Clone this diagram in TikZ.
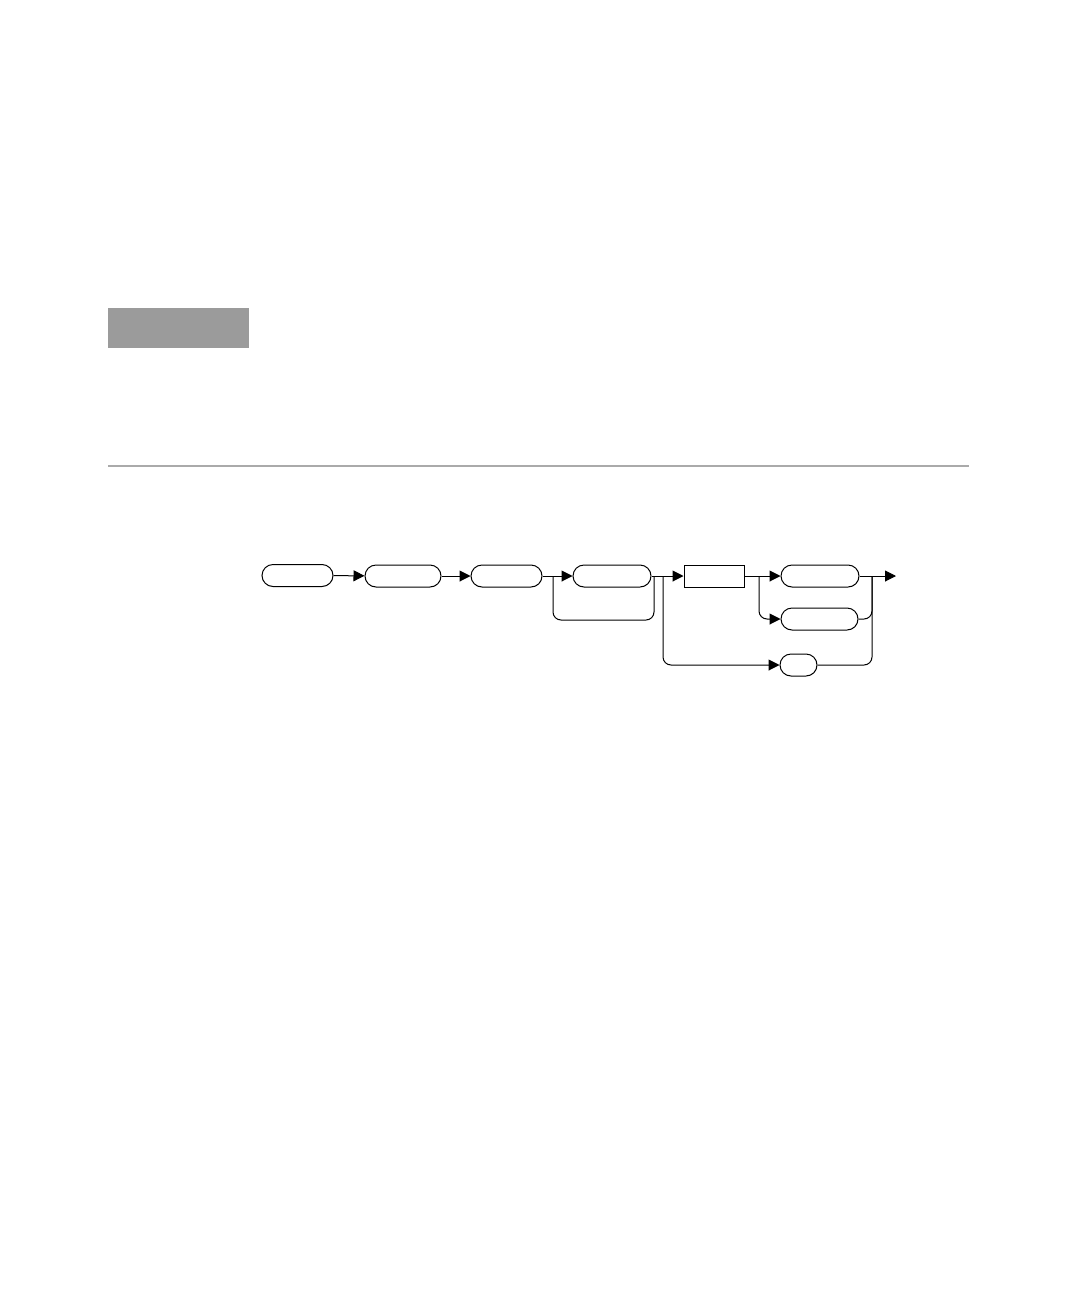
\documentclass[tikz,border=0pt]{standalone}
\usetikzlibrary{arrows.meta}
\definecolor{bandgray}{HTML}{9B9B9B}
\definecolor{rulegray}{HTML}{AAAAAA}
\begin{document}
\begin{tikzpicture}[x=1pt,y=-1pt]
\tikzset{
	pill/.style={draw,line width=1pt,rounded corners=11pt,minimum height=22pt,inner sep=0pt},
	boxed/.style={draw,line width=1pt,minimum height=22pt,inner sep=0pt},
	wire/.style={line width=1pt},
	flow/.style={wire,-{Triangle[length=11pt,width=11pt]}},
}
\useasboundingbox (0,0) rectangle (1080,1296);

 % bandeau et filet
  \fill[bandgray] (108,308) rectangle (249,348);
  \draw[rulegray,line width=1.2pt] (108,466) -- (969,466);

 % les blocs
  \node[pill,minimum width=71pt] (key) at (297.5,575.5) {};
  \node[pill,minimum width=76pt] (cmd) at (403,576) {};
  \node[pill,minimum width=71pt] (sub) at (506.5,576) {};
  \node[pill,minimum width=78pt] (opt) at (612,576) {};
  \node[boxed,minimum width=60pt] (param) at (714,576) {};
  \node[pill,minimum width=78pt] (valA) at (820,576) {};
  \node[pill,minimum width=77pt] (valB) at (819.5,619) {};
  \node[pill,minimum width=37pt] (query) at (798.5,665) {};

 % points de branchement
  \coordinate (j1) at (553,576);
  \coordinate (j2) at (654,576);
  \coordinate (j3) at (663,576);
  \coordinate (j4) at (759,576);
  \coordinate (j5) at (872,576);
  \coordinate (out) at (896,576);

 % les liaisons
  \draw[flow] (key) -- (cmd);
  \draw[flow] (cmd) -- (sub);
  \draw[wire] (sub) -- (j1);
  \draw[flow] (j1) -- (opt);
  \draw[wire,rounded corners=8pt] (j1) -- (553,620) -- (654,620) -- (j2);
  \draw[flow] (opt) -- (param);
  \draw[flow,rounded corners=8pt] (j3) |- (query);
  \draw[wire] (param) -- (j4);
  \draw[flow] (j4) -- (valA);
  \draw[flow,rounded corners=8pt] (j4) |- (valB);
  \draw[flow] (valA) -- (out);
  \draw[wire,rounded corners=8pt] (valB) -| (j5);
  \draw[wire,rounded corners=8pt] (query) -| (j5);
\end{tikzpicture}
\end{document}
